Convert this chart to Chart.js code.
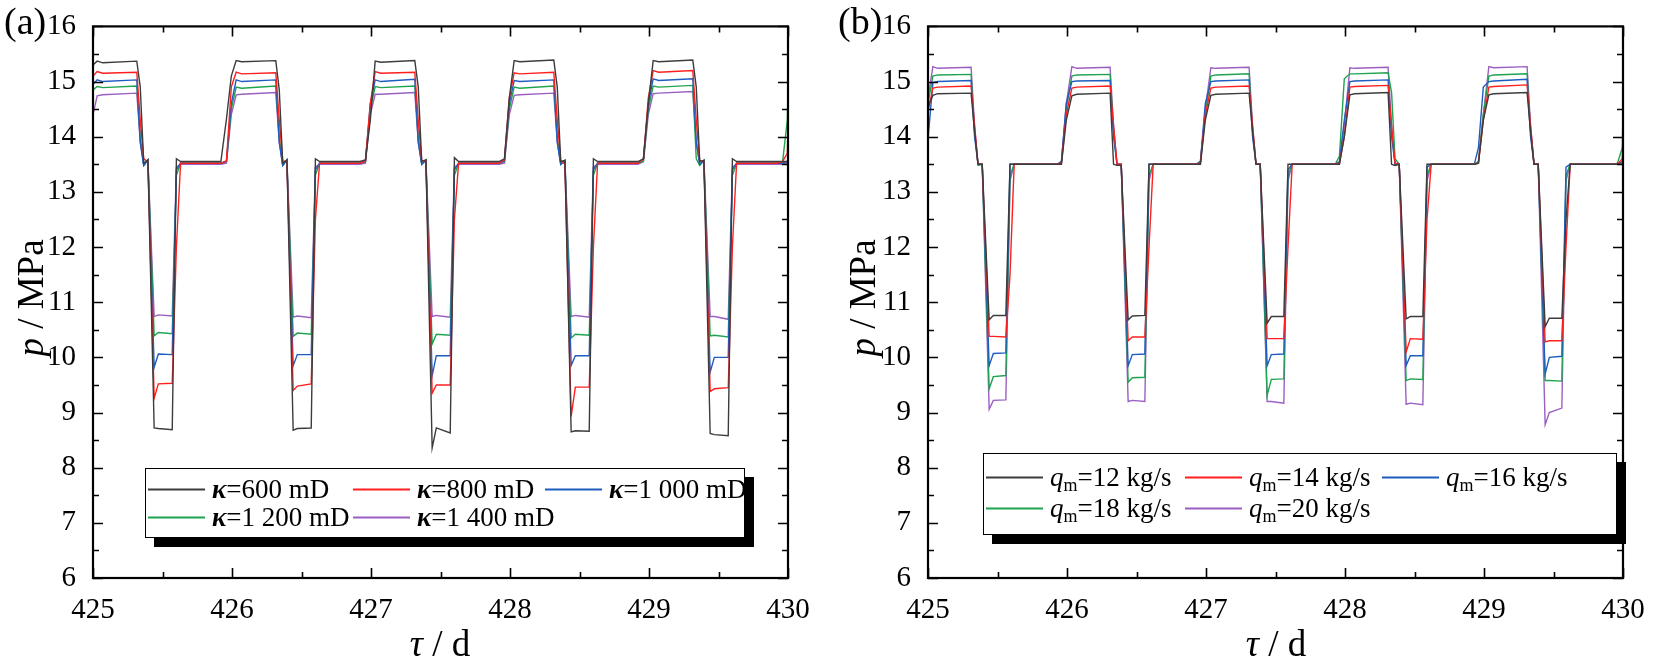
<!DOCTYPE html>
<html>
<head>
<meta charset="utf-8">
<script src="https://cdn.jsdelivr.net/npm/chart.js@4.4.1/dist/chart.umd.min.js"></script>
<style>
  html, body { margin: 0; padding: 0; background: #fff; }
  body { width: 1654px; height: 665px; position: relative; overflow: hidden; font-family: "Liberation Serif", "Times New Roman", serif; color: #000; }
  canvas { position: absolute; top: 0; }
  .tag { position: absolute; top: 2px; font-size: 38px; line-height: 1; }
  .ytitle { position: absolute; font-size: 37px; line-height: 1; white-space: nowrap; transform: translate(-50%, -50%) rotate(-90deg); }
  .xtitle { position: absolute; font-size: 37px; line-height: 1; white-space: nowrap; transform: translate(-50%, -50%); }
  .legend { position: absolute; border: 1.5px solid #000; background: #fff; box-shadow: 9px 9px 0 #000; box-sizing: border-box; }
  .item { position: absolute; font-size: 27px; line-height: 1; white-space: nowrap; transform: translateY(-50%); }
  .item .ln { display: inline-block; width: 57px; height: 1.5px; vertical-align: middle; margin-right: 7px; position: relative; top: -2px; }
  .item sub { font-size: 18px; vertical-align: -5px; line-height: 0; }
</style>
</head>
<body>
<canvas id="chartA" width="827" height="665" style="left:0"></canvas>
<canvas id="chartB" width="827" height="665" style="left:827px"></canvas>

<div class="tag" style="left:4px">(a)</div>
<div class="tag" style="left:838px">(b)</div>
<div class="ytitle" style="left:30px; top:298px"><i>p</i> / MPa</div>
<div class="ytitle" style="left:862px; top:298px"><i>p</i> / MPa</div>
<div class="xtitle" style="left:440px; top:643px"><i>τ</i> / d</div>
<div class="xtitle" style="left:1276px; top:643px"><i>τ</i> / d</div>
<div class="legend" id="legA" style="left:145px; top:468px; width:600px; height:70px"></div>
<div class="legend" id="legB" style="left:983px; top:453px; width:634px; height:82px"></div>

<script>
// (a) pressure for different permeabilities
const timeA = [425.00,
  425.03, 425.07, 425.315, 425.34, 425.365, 425.395, 425.44, 425.47, 425.57, 425.60, 425.63, 425.92, 425.96, 425.995,
  426.03, 426.07, 426.315, 426.34, 426.365, 426.395, 426.44, 426.47, 426.57, 426.60, 426.63, 426.92, 426.96, 426.995,
  427.03, 427.07, 427.315, 427.34, 427.365, 427.395, 427.44, 427.47, 427.57, 427.60, 427.63, 427.92, 427.96, 427.995,
  428.03, 428.07, 428.315, 428.34, 428.365, 428.395, 428.44, 428.47, 428.57, 428.60, 428.63, 428.92, 428.96, 428.995,
  429.03, 429.07, 429.315, 429.34, 429.365, 429.395, 429.44, 429.47, 429.57, 429.60, 429.63, 429.92, 429.96, 429.995,
  430.00];
const kappa600 = [15.30,
  15.37, 15.34, 15.37, 14.90, 13.52, 13.58, 8.72, 8.71, 8.69, 13.60, 13.55, 13.55, 14.32, 15.10,
  15.38, 15.36, 15.38, 14.85, 13.52, 13.58, 8.68, 8.71, 8.72, 13.60, 13.55, 13.55, 13.58, 14.30,
  15.37, 15.35, 15.38, 14.90, 13.55, 13.58, 8.36, 8.72, 8.63, 13.62, 13.55, 13.55, 13.60, 14.70,
  15.38, 15.36, 15.39, 14.90, 13.55, 13.57, 8.65, 8.67, 8.66, 13.60, 13.55, 13.55, 13.60, 14.60,
  15.38, 15.36, 15.39, 14.90, 13.55, 13.57, 8.62, 8.60, 8.58, 13.60, 13.55, 13.55, 13.55, 13.55,
  13.56];
const kappa800 = [15.10,
  15.18, 15.15, 15.17, 14.30, 13.60, 13.55, 9.26, 9.52, 9.53, 12.00, 13.52, 13.52, 13.56, 14.90,
  15.17, 15.14, 15.16, 14.30, 13.56, 13.55, 9.40, 9.48, 9.52, 12.50, 13.52, 13.52, 13.56, 14.60,
  15.18, 15.15, 15.17, 14.30, 13.56, 13.56, 9.35, 9.50, 9.50, 12.50, 13.52, 13.52, 13.58, 14.70,
  15.16, 15.14, 15.17, 14.30, 13.56, 13.50, 8.93, 9.46, 9.46, 12.00, 13.52, 13.52, 13.60, 14.70,
  15.20, 15.17, 15.20, 14.30, 13.56, 13.55, 9.38, 9.43, 9.45, 12.00, 13.52, 13.52, 13.55, 13.70,
  14.10];
const kappa1000 = [14.95,
  15.03, 15.00, 15.03, 13.90, 13.48, 13.58, 9.82, 10.06, 10.05, 13.40, 13.52, 13.52, 13.55, 14.60,
  15.03, 15.00, 15.03, 13.90, 13.48, 13.58, 9.85, 10.05, 10.05, 13.40, 13.52, 13.52, 13.55, 14.60,
  15.03, 15.00, 15.04, 13.90, 13.50, 13.57, 9.67, 10.03, 10.03, 13.40, 13.52, 13.52, 13.56, 14.60,
  15.02, 15.00, 15.03, 13.90, 13.50, 13.57, 9.85, 10.03, 10.03, 13.40, 13.52, 13.52, 13.60, 14.60,
  15.05, 15.02, 15.05, 13.90, 13.50, 13.57, 9.73, 10.00, 10.00, 13.40, 13.52, 13.52, 13.52, 13.55,
  13.60];
const kappa1200 = [14.85,
  14.91, 14.89, 14.92, 14.00, 13.48, 13.58, 10.39, 10.45, 10.43, 13.30, 13.52, 13.52, 13.55, 14.50,
  14.90, 14.88, 14.92, 14.00, 13.48, 13.58, 10.38, 10.44, 10.42, 13.30, 13.52, 13.52, 13.55, 14.50,
  14.91, 14.89, 14.92, 14.00, 13.50, 13.58, 10.24, 10.42, 10.40, 13.30, 13.52, 13.52, 13.55, 14.50,
  14.90, 14.88, 14.92, 14.00, 13.50, 13.57, 10.35, 10.42, 10.40, 13.30, 13.52, 13.52, 13.55, 14.50,
  14.92, 14.90, 14.93, 13.60, 13.48, 13.57, 10.39, 10.40, 10.37, 13.30, 13.52, 13.52, 13.52, 14.30,
  14.85];
const kappa1400 = [14.40,
  14.74, 14.76, 14.79, 13.90, 13.48, 13.58, 10.74, 10.77, 10.75, 13.45, 13.50, 13.50, 13.52, 14.40,
  14.76, 14.77, 14.80, 13.90, 13.48, 13.58, 10.73, 10.75, 10.72, 13.45, 13.50, 13.50, 13.52, 14.40,
  14.77, 14.77, 14.80, 13.90, 13.50, 13.57, 10.74, 10.76, 10.73, 13.45, 13.50, 13.50, 13.52, 14.40,
  14.75, 14.76, 14.79, 13.90, 13.50, 13.57, 10.74, 10.76, 10.73, 13.45, 13.50, 13.50, 13.55, 14.40,
  14.78, 14.79, 14.82, 13.90, 13.50, 13.57, 10.74, 10.74, 10.69, 13.45, 13.50, 13.50, 13.50, 13.52,
  13.60];

// (b) pressure for different mass flow rates
const timeB = [425.00,
  425.035, 425.07, 425.31, 425.335, 425.36, 425.39, 425.44, 425.47, 425.56, 425.59, 425.62, 425.93, 425.96, 425.995,
  426.035, 426.07, 426.31, 426.335, 426.36, 426.39, 426.44, 426.47, 426.56, 426.59, 426.62, 426.93, 426.96, 426.995,
  427.035, 427.07, 427.31, 427.335, 427.36, 427.39, 427.44, 427.47, 427.56, 427.59, 427.62, 427.93, 427.96, 427.995,
  428.035, 428.07, 428.31, 428.335, 428.36, 428.39, 428.44, 428.47, 428.56, 428.59, 428.62, 428.93, 428.96, 428.995,
  429.035, 429.07, 429.31, 429.335, 429.36, 429.39, 429.44, 429.47, 429.56, 429.59, 429.62, 429.93, 429.96, 429.995,
  430.00];
const qm12 = [14.55,
  14.75, 14.78, 14.79, 14.10, 13.50, 13.50, 10.68, 10.76, 10.76, 13.50, 13.50, 13.50, 13.50, 14.30,
  14.74, 14.77, 14.79, 13.50, 13.48, 13.48, 10.68, 10.75, 10.76, 13.50, 13.50, 13.50, 13.50, 14.30,
  14.75, 14.77, 14.79, 14.10, 13.50, 13.50, 10.62, 10.74, 10.74, 13.50, 13.50, 13.50, 13.50, 14.00,
  14.76, 14.78, 14.80, 13.50, 13.48, 13.50, 10.70, 10.74, 10.74, 13.50, 13.50, 13.50, 13.52, 14.30,
  14.76, 14.78, 14.80, 14.10, 13.50, 13.50, 10.56, 10.71, 10.71, 12.50, 13.50, 13.50, 13.50, 13.50,
  13.55];
const qm14 = [14.45,
  14.88, 14.90, 14.92, 14.20, 13.50, 13.50, 10.38, 10.38, 10.37, 11.50, 13.50, 13.50, 13.52, 14.40,
  14.88, 14.90, 14.92, 14.20, 13.50, 13.50, 10.30, 10.37, 10.37, 12.00, 13.50, 13.50, 13.52, 14.40,
  14.88, 14.90, 14.92, 14.20, 13.50, 13.50, 10.34, 10.34, 10.34, 12.00, 13.50, 13.50, 13.52, 14.00,
  14.90, 14.91, 14.93, 14.20, 13.52, 13.50, 10.10, 10.34, 10.33, 12.50, 13.50, 13.50, 13.52, 14.30,
  14.90, 14.91, 14.94, 14.20, 13.50, 13.50, 10.28, 10.30, 10.30, 12.00, 13.50, 13.50, 13.50, 13.60,
  14.05];
const qm16 = [13.95,
  14.98, 15.00, 15.02, 14.00, 13.50, 13.50, 9.85, 10.07, 10.08, 13.50, 13.50, 13.50, 13.55, 14.60,
  15.00, 15.01, 15.02, 14.00, 13.50, 13.50, 9.85, 10.05, 10.06, 13.50, 13.50, 13.50, 13.55, 14.60,
  15.00, 15.01, 15.03, 14.00, 13.50, 13.50, 9.85, 10.05, 10.06, 13.40, 13.50, 13.50, 13.55, 14.30,
  15.00, 15.01, 15.03, 14.00, 13.50, 13.50, 9.85, 10.03, 10.03, 13.45, 13.50, 13.50, 13.80, 14.90,
  15.00, 15.01, 15.04, 14.00, 13.50, 13.50, 9.70, 10.00, 10.02, 13.45, 13.50, 13.50, 13.50, 13.55,
  13.80];
const qm18 = [14.60,
  15.10, 15.12, 15.13, 14.10, 13.48, 13.50, 9.43, 9.65, 9.67, 13.30, 13.50, 13.50, 13.55, 14.50,
  15.10, 15.12, 15.13, 14.10, 13.48, 13.50, 9.55, 9.63, 9.64, 13.30, 13.50, 13.50, 13.55, 14.40,
  15.10, 15.12, 15.14, 14.10, 13.50, 13.50, 9.31, 9.60, 9.61, 13.30, 13.50, 13.50, 13.65, 15.05,
  15.14, 15.14, 15.16, 14.80, 13.60, 13.50, 9.58, 9.61, 9.60, 13.30, 13.50, 13.50, 13.55, 14.40,
  15.10, 15.12, 15.14, 14.10, 13.50, 13.50, 9.58, 9.58, 9.57, 13.30, 13.50, 13.50, 13.52, 13.80,
  14.55];
const qm20 = [14.70,
  15.27, 15.24, 15.26, 14.20, 13.50, 13.50, 9.06, 9.22, 9.23, 13.20, 13.50, 13.50, 13.55, 14.60,
  15.27, 15.24, 15.26, 14.20, 13.50, 13.50, 9.20, 9.22, 9.20, 13.20, 13.50, 13.50, 13.55, 14.50,
  15.25, 15.24, 15.26, 14.20, 13.50, 13.50, 9.20, 9.20, 9.17, 13.20, 13.50, 13.50, 13.52, 14.20,
  15.25, 15.24, 15.26, 14.20, 13.50, 13.50, 9.15, 9.17, 9.14, 13.20, 13.50, 13.50, 13.55, 14.40,
  15.27, 15.25, 15.27, 14.20, 13.50, 13.50, 8.78, 9.00, 9.08, 13.20, 13.50, 13.50, 13.50, 13.50,
  13.55];

const lineColors = ['#3c3c3c', '#ff1f1f', '#1f5cc0', '#1fa34f', '#9b5fc2'];
const labelsA = ['600', '800', '1 000', '1 200', '1 400'];
const labelsB = ['12', '14', '16', '18', '20'];
const xTicks = [425, 426, 427, 428, 429, 430];
const yTicks = [6, 7, 8, 9, 10, 11, 12, 13, 14, 15, 16];

const fontFamily = 'Liberation Serif';

// box frame with inward ticks on all four sides
const frameTicks = {
    id: 'frameTicks',
    afterDatasetsDraw(chart) {
        const { ctx, chartArea: a, scales: { x, y } } = chart;
        ctx.save();
        ctx.strokeStyle = '#000';
        ctx.lineWidth = 1.6;
        ctx.beginPath();
        for (let v = x.min; v <= x.max + 1e-9; v += 0.5) {
            const px = Math.round(x.getPixelForValue(v)) + 0.5;
            const len = xTicks.includes(v) ? 10 : 6;
            ctx.moveTo(px, a.bottom); ctx.lineTo(px, a.bottom - len);
            ctx.moveTo(px, a.top); ctx.lineTo(px, a.top + len);
        }
        for (let v = y.min; v <= y.max + 1e-9; v += 0.5) {
            const py = Math.round(y.getPixelForValue(v)) + 0.5;
            const len = yTicks.includes(v) ? 10 : 6;
            ctx.moveTo(a.left, py); ctx.lineTo(a.left + len, py);
            ctx.moveTo(a.right, py); ctx.lineTo(a.right - len, py);
        }
        ctx.stroke();
        ctx.lineWidth = 2.2;
        ctx.strokeRect(a.left, a.top, a.right - a.left, a.bottom - a.top);
        ctx.restore();
    }
};

function createChart(canvasId, times, series, yAxisWidth, padRight) {
    const datasets = series.map((values, i) => ({
        data: times.map((t, k) => ({ x: t, y: values[k] })),
        borderColor: lineColors[i],
        borderWidth: 1.4,
        pointRadius: 0,
        tension: 0,
        fill: false
    }));
    const tickFont = { family: fontFamily, size: 29 };
    return new Chart(document.getElementById(canvasId), {
        type: 'line',
        data: { datasets: datasets },
        options: {
            responsive: false,
            animation: false,
            layout: { padding: { top: 19, right: padRight, left: 0, bottom: 0 } },
            plugins: { legend: { display: false }, tooltip: { enabled: false } },
            scales: {
                x: {
                    type: 'linear', min: 425, max: 430,
                    afterBuildTicks: s => { s.ticks = xTicks.map(v => ({ value: v })); },
                    ticks: { font: tickFont, color: '#000', padding: 7, maxRotation: 0, autoSkip: false },
                    grid: { display: false }, border: { display: false },
                    afterFit: s => { s.height = 87; }
                },
                y: {
                    type: 'linear', min: 6, max: 16,
                    afterBuildTicks: s => { s.ticks = yTicks.map(v => ({ value: v })); },
                    ticks: { font: tickFont, color: '#000', padding: 9, autoSkip: false },
                    grid: { display: false }, border: { display: false },
                    afterFit: s => { s.width = yAxisWidth; }
                }
            }
        },
        plugins: [frameTicks]
    });
}

createChart('chartA', timeA, [kappa600, kappa800, kappa1000, kappa1200, kappa1400], 93, 39);
createChart('chartB', timeB, [qm12, qm14, qm16, qm18, qm20], 101, 31);

// legends
function fillLegend(id, texts, cols, rows) {
    const box = document.getElementById(id);
    texts.forEach((html, i) => {
        const el = document.createElement('div');
        el.className = 'item';
        el.style.left = cols[i % 3] + 'px';
        el.style.top = rows[Math.floor(i / 3)] + 'px';
        el.innerHTML = '<span class="ln" style="background:' + lineColors[i] + '"></span>' + html;
        box.appendChild(el);
    });
}
fillLegend('legA', labelsA.map(v => '<b><i>κ</i></b>=' + v + ' mD'), [2, 207, 399], [20, 48]);
fillLegend('legB', labelsB.map(v => '<i>q</i><sub>m</sub>=' + v + ' kg/s'), [2, 201, 398], [23, 54]);
</script>
</body>
</html>
